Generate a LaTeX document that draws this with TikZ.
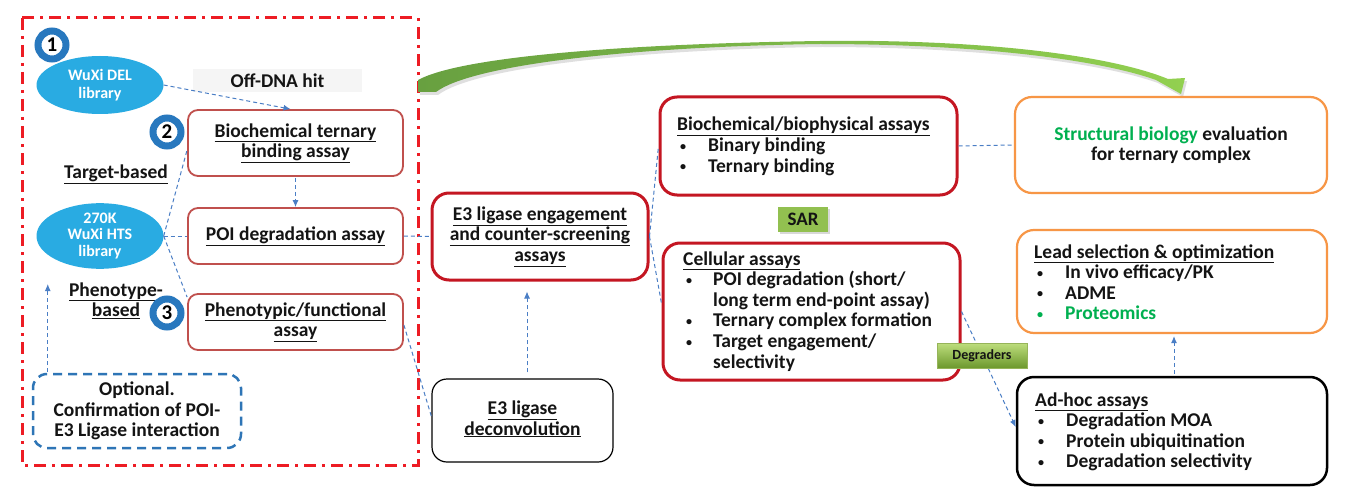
\documentclass[tikz,border=0pt]{standalone}
\usepackage{fontspec}
\setmainfont{Carlito}
\usetikzlibrary{arrows.meta,shapes.geometric,calc,shadows}
\definecolor{frameRed}{RGB}{237,28,36}
\definecolor{boxRed}{RGB}{192,80,77}
\definecolor{thickRed}{RGB}{196,22,34}
\definecolor{orng}{RGB}{247,150,70}
\definecolor{lblue}{RGB}{41,171,226}
\definecolor{cblue}{RGB}{40,120,190}
\definecolor{connc}{RGB}{74,126,197}
\definecolor{optblue}{RGB}{46,117,182}
\definecolor{sgreen}{RGB}{0,176,80}
\definecolor{sargreen}{RGB}{146,192,80}
\definecolor{swL}{RGB}{104,160,64}
\definecolor{swR}{RGB}{146,208,80}
\definecolor{txtc}{RGB}{20,20,20}
\newcommand\fsA{\fontsize{19.5}{20.6}\selectfont\bfseries}
\newcommand\uln[1]{\raisebox{0pt}[\height][5pt]{\underline{#1}}}
\newcommand\sbul{\raisebox{1.5pt}{\scalebox{0.62}{\textbullet}}}
\newcommand\bulA{\makebox[31pt][l]{\hspace{3pt}\sbul}}
\newcommand\bulB{\makebox[30pt][l]{\hspace{3pt}\sbul}}
\newcommand\bulC{\makebox[31pt][l]{\hspace{3pt}\sbul}}
\tikzset{
  thinbox/.style={draw=boxRed, line width=1.8pt, rounded corners=10pt, fill=white, align=center, font=\fsA, text=txtc, inner sep=0pt},
  thickbox/.style={draw=thickRed, line width=3pt, rounded corners=17pt, fill=white, inner sep=0pt, align=center, font=\fsA, text=txtc},
  orbox/.style={draw=orng, line width=2.2pt, rounded corners=17pt, fill=white, inner sep=0pt, align=center, font=\fsA, text=txtc},
  blkbox/.style={draw=black, line width=2.5pt, rounded corners=17pt, fill=white, inner sep=0pt},
  thinblk/.style={draw=black, line width=1.2pt, rounded corners=15pt, fill=white, inner sep=0pt, align=center, font=\fsA, text=txtc},
  optbox/.style={draw=optblue, line width=2.5pt, dash pattern=on 9pt off 6pt, rounded corners=14pt, inner sep=0pt, align=center, font=\fsA, text=txtc},
  conn/.style={draw=connc, line width=1pt, dash pattern=on 4pt off 3pt},
  arr/.style={conn, -{Latex[length=7pt,width=6pt]}},
  numc/.style={circle, draw=cblue, line width=7pt, fill=white, minimum size=28pt, inner sep=0pt, font=\fontsize{21}{21}\selectfont\bfseries, text=black},
  lib/.style={ellipse, fill=lblue, text=white, inner sep=0pt, align=center, minimum width=127pt, minimum height=58pt},
  plain/.style={inner sep=0pt, align=center, font=\fsA, text=txtc},
  listtxt/.style={anchor=base west, inner sep=0pt, font=\fsA, text=txtc},
  frame/.style={draw=frameRed, line width=3pt, dash pattern=on 12pt off 6pt on 3pt off 6pt}
}
\begin{document}
\begin{tikzpicture}[x=1pt,y=-1pt]
\useasboundingbox (0,0) rectangle (1348,500);
\fill[white] (0,0) rectangle (1348,500);
% red frame
\draw[frame] (22,18) rectangle (418,465);
% green swoosh
\fill[gray, opacity=0.25, xshift=2pt, yshift=-3pt] (418,80) .. controls (460,57) and (620,44) .. (820,41) .. controls (980,39) and (1110,55) .. (1168,79) -- (1185,78) -- (1181,94) -- (1156,80) .. controls (1100,60) and (980,44) .. (820,44) .. controls (620,47) and (470,66) .. (436,92) -- (418,92) -- cycle;
\shade[left color=swL, right color=swR] (418,80) .. controls (460,57) and (620,44) .. (820,41) .. controls (980,39) and (1110,55) .. (1168,79) -- (1185,78) -- (1181,94) -- (1156,80) .. controls (1100,60) and (980,44) .. (820,44) .. controls (620,47) and (470,66) .. (436,92) -- (418,92) -- cycle;
% left part
\node[numc] (n1) at (52,45) {1};
\node[lib, font=\fontsize{16}{17.7}\selectfont\bfseries] (e1) at (100,85) {WuXi DEL\\library};
\node[fill=black!4, minimum width=169pt, minimum height=23pt, inner sep=0pt, font=\fsA, text=txtc] (off) at (277.5,81) {Off-DNA hit};
\node[numc] (n2) at (167,132) {2};
\node[thinbox, minimum width=215pt, minimum height=66pt] (b1) at (295.5,143) {\uln{Biochemical ternary}\\\uln{binding assay}};
\node[plain] (tb) at (116,174) {\uln{Target-based}};
\node[lib, font=\fontsize{16}{16.7}\selectfont\bfseries] (e2) at (100,236) {270K\\WuXi HTS\\library};
\node[thinbox, minimum width=215pt, minimum height=56pt] (b2) at (295.5,236) {\uln{POI degradation assay}};
\node[plain] (pb) at (116,302) {\uln{Phenotype-}\\\uln{based}};
\node[numc] (n3) at (167,313) {3};
\node[thinbox, minimum width=215pt, minimum height=56pt] (b3) at (295.5,322) {\uln{Phenotypic/functional}\\\uln{assay}};
\node[optbox, minimum width=208pt, minimum height=74pt] (opt) at (137,411) {Optional.\\Confirmation of POI-\\E3 Ligase interaction};
% middle
\node[thickbox, minimum width=216pt, minimum height=87pt] (e3) at (540,236.5) {\uln{E3 ligase engagement}\\\uln{and counter-screening}\\\uln{assays}};
\node[thinblk, minimum width=181pt, minimum height=83pt] (dec) at (522.5,420.5) {\uln{E3 ligase}\\\uln{deconvolution}};
\node[thickbox, minimum width=297pt, minimum height=98pt] (bb) at (808.5,146) {};
\node[listtxt] (bbt) at (677,131) {\begin{tabular}[t]{@{}l@{}}\uln{Biochemical/biophysical assays}\\\bulA Binary binding\\\bulA Ternary binding\end{tabular}};
\node[fill=sargreen, minimum width=50pt, minimum height=25pt, inner sep=0pt, font=\fontsize{19}{20}\selectfont\bfseries, text=txtc, drop shadow={opacity=0.3, shadow xshift=1.5pt, shadow yshift=-1.5pt}] (sar) at (803,219.5) {SAR};
\node[thickbox, minimum width=297pt, minimum height=137pt] (cell) at (811.5,311.5) {};
\node[listtxt] (cellt) at (683,265) {\begin{tabular}[t]{@{}l@{}}\uln{Cellular assays}\\\bulB POI degradation (short/\\\hspace{30pt}long term end-point assay)\\\bulB Ternary complex formation\\\bulB Target engagement/\\\hspace{30pt}selectivity\end{tabular}};
% right
\node[orbox, minimum width=312pt, minimum height=96pt] (sb) at (1171,145) {{\color{sgreen}Structural biology} evaluation\\for ternary complex};
\node[orbox, minimum width=310pt, minimum height=103pt] (lead) at (1172,281.5) {};
\node[listtxt] (leadt) at (1034,258) {\begin{tabular}[t]{@{}l@{}}\uln{Lead selection \& optimization}\\\bulC In vivo efficacy/PK\\\bulC ADME\\{\color{sgreen}\bulC Proteomics}\end{tabular}};
\node[blkbox, minimum width=310pt, minimum height=108pt] (adhoc) at (1172,431) {};
\node[listtxt] (adhoct) at (1035,406) {\begin{tabular}[t]{@{}l@{}}\uln{Ad-hoc assays}\\\bulC Degradation MOA\\\bulC Protein ubiquitination\\\bulC Degradation selectivity\end{tabular}};
% connectors
\draw[arr] (e1.east) -- ([xshift=-5pt]b1.north);
\draw[arr, shorten <=1pt] (b1.south) -- (b2.north);
\draw[conn] (e2.east) -- ([yshift=-7pt]b1.west);
\draw[conn] (e2.east) -- (b2.west);
\draw[conn] (e2.east) -- ([yshift=-4pt]b3.north west);
\draw[conn] (b2.east) -- (e3.west);
\draw[conn] ([yshift=-3pt]b3.east) -- ([yshift=4pt]dec.west);
\draw[arr, shorten <=1pt, shorten >=15pt] ([xshift=16pt]opt.north west) -- ([xshift=16pt]opt.north west |- e2.south);
\draw[arr, shorten <=6pt, shorten >=10pt] ([xshift=4.5pt]dec.north) -- ([xshift=4.5pt]dec.north |- e3.south);
\draw[conn] (e3.east) -- (bb.west);
\draw[conn] (e3.east) -- ([yshift=8pt]cell.west);
\draw[conn] (bb.east) -- (sb.west);
\draw[arr] (cell.east) -- ([yshift=4pt]adhoc.west);
\draw[arr, shorten <=2pt, shorten >=2pt] ([xshift=2pt]adhoc.north) -- ([xshift=2pt]lead.south);
\node[draw={rgb,255:red,150;green,180;blue,90}, line width=0.6pt, top color={rgb,255:red,190;green,222;blue,125}, bottom color={rgb,255:red,108;green,152;blue,45}, minimum width=90pt, minimum height=25pt, inner sep=0pt, font=\fontsize{14}{15}\selectfont\bfseries, text=txtc] (deg) at (982,355.5) {Degraders};
\end{tikzpicture}
\end{document}
